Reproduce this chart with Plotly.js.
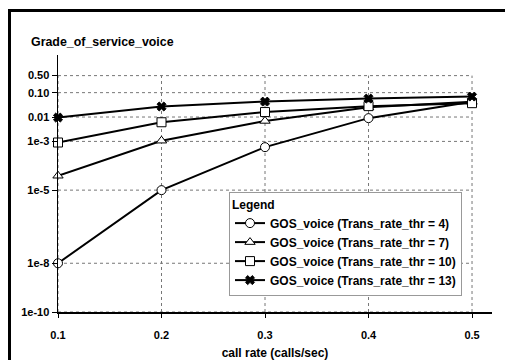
<!DOCTYPE html>
<html>
<head>
<meta charset="utf-8">
<script src="https://cdn.plot.ly/plotly-3.0.1.min.js"></script>
<style>
html,body{margin:0;padding:0;background:#fff;}
#wrap{position:relative;width:505px;height:360px;overflow:hidden;}
#chart{position:absolute;left:0;top:0;width:505px;height:360px;}
#frame{position:absolute;left:8px;top:9px;width:600px;height:400px;border-top:3px solid #000;border-left:3px solid #000;pointer-events:none;}
</style>
</head>
<body>
<div id="wrap"><div id="chart"></div><div id="frame"></div></div>
<script>
// Data
var callRate = [0.1, 0.2, 0.3, 0.4, 0.5];
var gosThr4  = [1e-8, 1e-5, 5.8e-4, 0.009, 0.042];
var gosThr7  = [3.9e-5, 1.07e-3, 0.0069, 0.025, 0.042];
var gosThr10 = [9e-4, 0.0061, 0.016, 0.028, 0.037];
var gosThr13 = [0.0095, 0.027, 0.043, 0.057, 0.069];
var seriesNames = [
  "GOS_voice (Trans_rate_thr = 4)",
  "GOS_voice (Trans_rate_thr = 7)",
  "GOS_voice (Trans_rate_thr = 10)",
  "GOS_voice (Trans_rate_thr = 13)"
];
var yTickVals = [0.5, 0.1, 0.01, 1e-3, 1e-5, 1e-8, 1e-10];
var yTickText = ["0.50", "0.10", "0.01", "1e-3", "1e-5", "1e-8", "1e-10"];
var xTickVals = [0.1, 0.2, 0.3, 0.4, 0.5];
var xTickText = ["0.1", "0.2", "0.3", "0.4", "0.5"];

var FONT = "Liberation Sans, Arial, Helvetica, sans-serif";
var allY = [gosThr4, gosThr7, gosThr10, gosThr13];
var symbols = ["circle", "triangle-up", "square", "x"];
var mFill = ["#fff", "#fff", "#fff", "#000"];
var mSize = [9, 9, 9, 8];

var traces = allY.map(function (ys, i) {
  return {
    x: callRate, y: ys, name: seriesNames[i],
    type: "scatter", mode: "lines+markers", cliponaxis: false,
    line: {color: "#000", width: 2},
    marker: {symbol: symbols[i], size: mSize[i], color: mFill[i],
             line: {color: "#000", width: 1}}
  };
});

var yMin = Math.min.apply(null, yTickVals), yMax = Math.max.apply(null, yTickVals);
var xMin = Math.min.apply(null, xTickVals), xMax = Math.max.apply(null, xTickVals);
var shapes = [];
xTickVals.forEach(function (v) {
  shapes.push({type: "line", layer: "below", xref: "x", yref: "y",
    x0: v, x1: v, y0: yMin, y1: yMax,
    line: {color: "#777", width: 1, dash: "dot"}});
});
yTickVals.forEach(function (v) {
  shapes.push({type: "line", layer: "below", xref: "x", yref: "y",
    x0: xMin, x1: xMax, y0: v, y1: v,
    line: {color: "#777", width: 1, dash: "dot"}});
});

var layout = {
  width: 505, height: 360,
  margin: {l: 58, r: 13, t: 55, b: 48, pad: 0},
  paper_bgcolor: "#fff", plot_bgcolor: "#fff",
  font: {family: FONT, color: "#000", size: 11},
  showlegend: true,
  title: {text: "<b>Grade_of_service_voice</b>", font: {family: FONT, size: 12.4, color: "#000"},
          x: 31 / 505, xanchor: "left", xref: "container",
          y: 1 - 42 / 360, yanchor: "middle", yref: "container"},
  xaxis: {
    range: [0.1, 0.5193], fixedrange: true,
    tickmode: "array", tickvals: xTickVals, ticktext: xTickText,
    tickfont: {family: FONT, size: 11, color: "#000", weight: "bold"},
    ticks: "outside", ticklen: 4, tickwidth: 1, tickcolor: "#000",
    ticklabelstandoff: 8,
    showline: true, linecolor: "#000", linewidth: 1.5,
    showgrid: false, zeroline: false,
    title: {text: "<b>call rate (calls/sec)</b>", font: {family: FONT, size: 12, color: "#000"}},
    automargin: false
  },
  yaxis: {
    type: "log", range: [-10, 0.545], fixedrange: true,
    tickmode: "array", tickvals: yTickVals, ticktext: yTickText,
    tickfont: {family: FONT, size: 11, color: "#000", weight: "bold"},
    ticks: "outside", ticklen: 5, tickwidth: 1, tickcolor: "#000",
    showline: true, linecolor: "#000", linewidth: 1.5,
    showgrid: false, zeroline: false, automargin: false
  },
  legend: {
    title: {text: "<b>Legend</b>", font: {family: FONT, size: 12, color: "#000"}},
    x: (229 - 58) / 434, y: (312 - 192) / 257, xanchor: "left", yanchor: "top",
    bgcolor: "#fff", bordercolor: "#999", borderwidth: 1,
    font: {family: FONT, size: 12, color: "#000", weight: "bold"},
    tracegroupgap: 0, itemwidth: 30
  },
  shapes: shapes
};

Plotly.newPlot("chart", traces, layout, {staticPlot: true, displayModeBar: false});
</script>
</body>
</html>
